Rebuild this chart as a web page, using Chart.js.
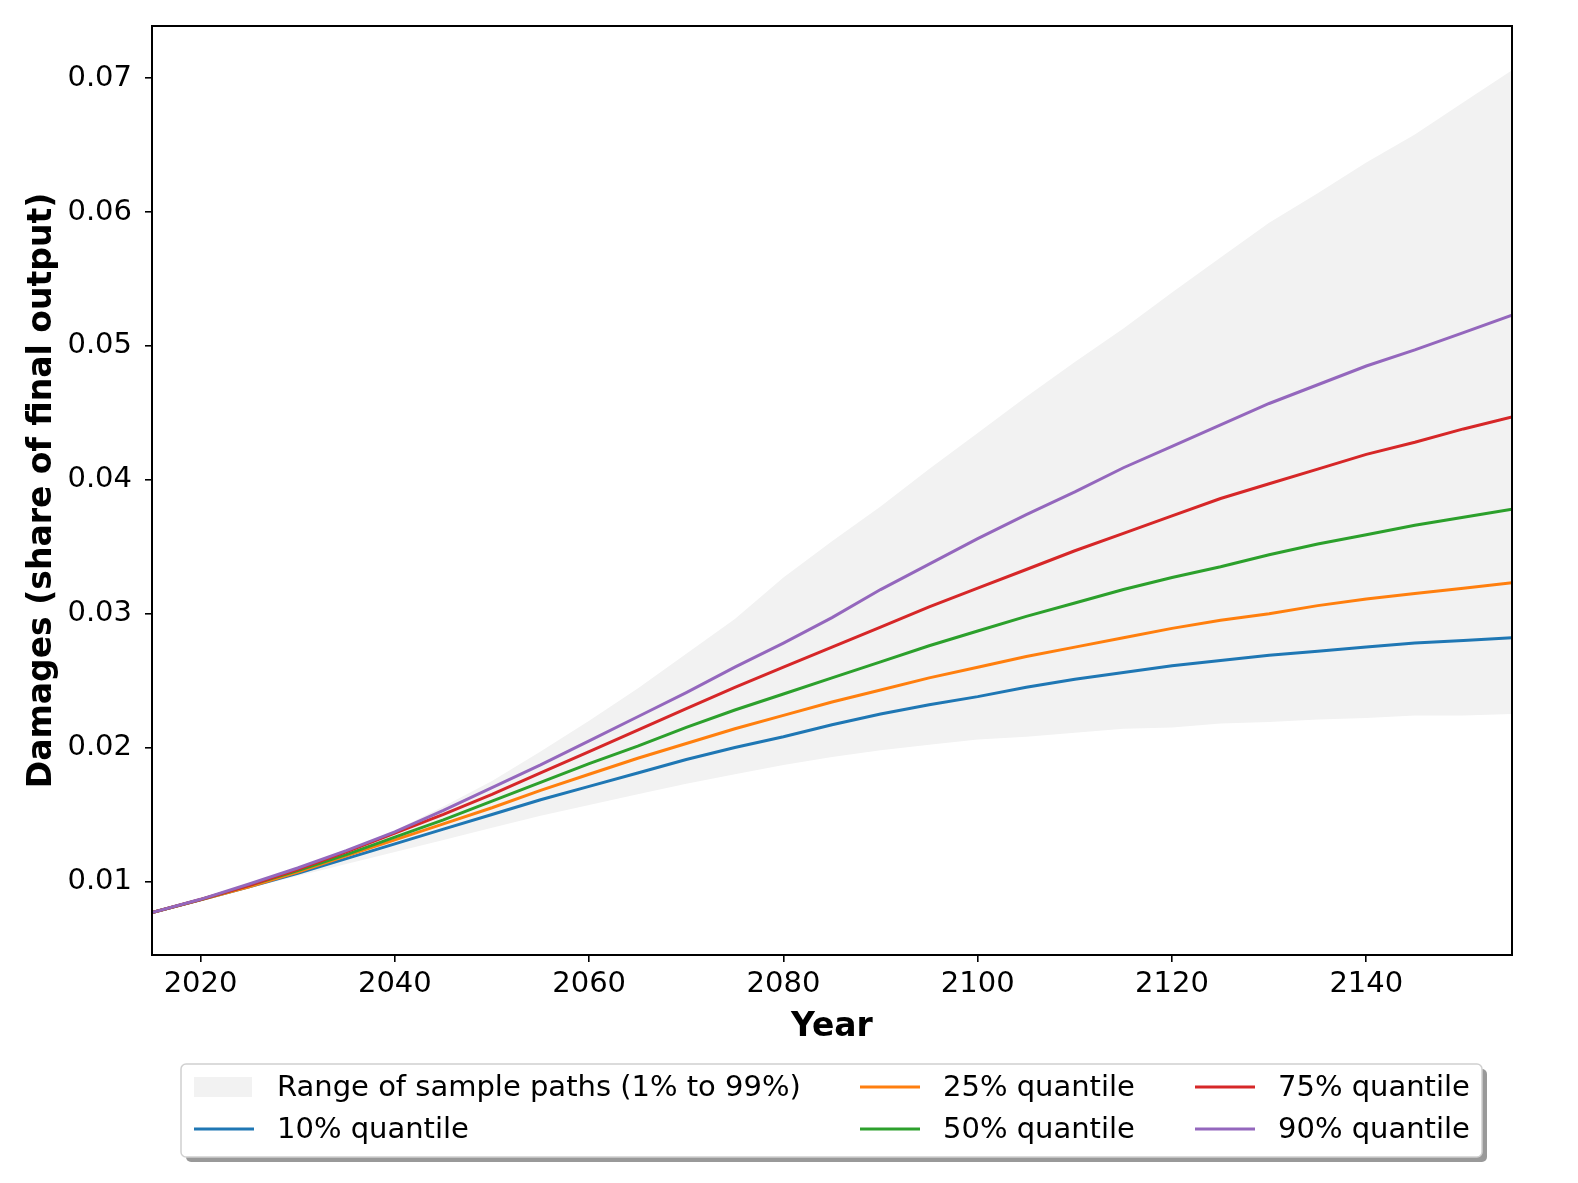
<!DOCTYPE html>
<html>
<head>
<meta charset="utf-8">
<script src="https://cdn.jsdelivr.net/npm/chart.js@4"></script>
<style>
  body { margin: 0; background: #fff; overflow: hidden; }
  #wrap { width: 1578px; height: 1183px; position: relative; }
</style>
</head>
<body>
<div id="wrap"><canvas id="myChart"></canvas></div>
<script>
// data, 5-year steps
const years = [2015, 2020, 2025, 2030, 2035, 2040, 2045, 2050, 2055, 2060, 2065, 2070, 2075, 2080, 2085,
  2090, 2095, 2100, 2105, 2110, 2115, 2120, 2125, 2130, 2135, 2140, 2145, 2150, 2155];

const rangeHigh = [0.00767, 0.00866, 0.0097, 0.0110, 0.0123, 0.0138, 0.0156, 0.0175, 0.0197, 0.0220, 0.0244,
  0.0270, 0.0296, 0.0327, 0.0354, 0.0380, 0.0408, 0.0435, 0.0462, 0.0488, 0.0513, 0.0540, 0.0566, 0.0592,
  0.0614, 0.0637, 0.0658, 0.0682, 0.0706];
const rangeLow = [0.00767, 0.00862, 0.0095, 0.0104, 0.0113, 0.0122, 0.0131, 0.0140, 0.0149, 0.0157, 0.0165,
  0.0173, 0.0180, 0.0187, 0.0193, 0.0198, 0.0202, 0.0206, 0.0208, 0.0211, 0.0214, 0.0215, 0.0218, 0.0219,
  0.0221, 0.0222, 0.0224, 0.0224, 0.0225];

const q10 = [0.00767, 0.00862, 0.0096, 0.0106, 0.0117, 0.0128, 0.0139, 0.0150, 0.0161, 0.0171, 0.0181, 0.0191,
  0.0200, 0.0208, 0.0217, 0.0225, 0.0232, 0.0238, 0.0245, 0.0251, 0.0256, 0.0261, 0.0265, 0.0269, 0.0272,
  0.0275, 0.0278, 0.0280, 0.0282];
const q25 = [0.00767, 0.00863, 0.0096, 0.0107, 0.0119, 0.0131, 0.0143, 0.0155, 0.0168, 0.0180, 0.0192, 0.0203,
  0.0214, 0.0224, 0.0234, 0.0243, 0.0252, 0.0260, 0.0268, 0.0275, 0.0282, 0.0289, 0.0295, 0.0300, 0.0306,
  0.0311, 0.0315, 0.0319, 0.0323];
const q50 = [0.00767, 0.00864, 0.0097, 0.0108, 0.0120, 0.0133, 0.0146, 0.0160, 0.0174, 0.0188, 0.0201, 0.0215,
  0.0228, 0.0240, 0.0252, 0.0264, 0.0276, 0.0287, 0.0298, 0.0308, 0.0318, 0.0327, 0.0335, 0.0344, 0.0352,
  0.0359, 0.0366, 0.0372, 0.0378];
const q75 = [0.00767, 0.00865, 0.0097, 0.0109, 0.0122, 0.0136, 0.0150, 0.0165, 0.0181, 0.0197, 0.0213, 0.0229,
  0.0245, 0.0260, 0.0275, 0.0290, 0.0305, 0.0319, 0.0333, 0.0347, 0.0360, 0.0373, 0.0386, 0.0397, 0.0408,
  0.0419, 0.0428, 0.0438, 0.0447];
const q90 = [0.00767, 0.00866, 0.0098, 0.0110, 0.0123, 0.0137, 0.0153, 0.0170, 0.0187, 0.0205, 0.0223, 0.0241,
  0.0260, 0.0278, 0.0297, 0.0318, 0.0337, 0.0356, 0.0374, 0.0391, 0.0409, 0.0425, 0.0441, 0.0457, 0.0471,
  0.0485, 0.0497, 0.0510, 0.0523];

const xTicks = [2020, 2040, 2060, 2080, 2100, 2120, 2140];
const yTicks = [0.01, 0.02, 0.03, 0.04, 0.05, 0.06, 0.07];

const FONT = "'DejaVu Sans', sans-serif";
const BAND = '#f2f2f2';

const pts = (vals) => vals.map((v, i) => ({x: years[i], y: v}));

const line = (label, vals, color, order) => ({
  label: label,
  data: pts(vals),
  borderColor: color,
  borderWidth: 3,
  pointRadius: 0,
  fill: false,
  order: order,
});

// legend goes column by column, like matplotlib with ncol=3
const legendItems = [
  {text: 'Range of sample paths (1% to 99%)', patch: true, col: 0, row: 0},
  {text: '10% quantile', color: '#1f77b4', col: 0, row: 1},
  {text: '25% quantile', color: '#ff7f0e', col: 1, row: 0},
  {text: '50% quantile', color: '#2ca02c', col: 1, row: 1},
  {text: '75% quantile', color: '#d62728', col: 2, row: 0},
  {text: '90% quantile', color: '#9467bd', col: 2, row: 1},
];

const framePlugin = {
  id: 'frame',
  afterDraw(chart) {
    const {ctx, chartArea: a} = chart;
    ctx.save();
    ctx.strokeStyle = '#000';
    ctx.lineWidth = 2;
    ctx.strokeRect(a.left, a.top, a.right - a.left, a.bottom - a.top);

    // legend box with shadow
    const bx = 181, by = 1064, bw = 1301, bh = 93;
    ctx.fillStyle = 'rgba(0,0,0,0.4)';
    ctx.beginPath();
    ctx.roundRect(bx + 5, by + 5, bw, bh, 5);
    ctx.fill();
    ctx.fillStyle = '#fff';
    ctx.strokeStyle = '#d0d0d0';
    ctx.lineWidth = 1.5;
    ctx.beginPath();
    ctx.roundRect(bx, by, bw, bh, 5);
    ctx.fill();
    ctx.stroke();

    const colX = [194, 860, 1195];
    const rowY = [1087, 1129];
    ctx.font = '29px ' + FONT;
    ctx.textBaseline = 'middle';
    legendItems.forEach((it) => {
      const x = colX[it.col], y = rowY[it.row];
      if (it.patch) {
        ctx.fillStyle = BAND;
        ctx.fillRect(x, y - 10, 58, 20);
      } else {
        ctx.strokeStyle = it.color;
        ctx.lineWidth = 3;
        ctx.beginPath();
        ctx.moveTo(x, y);
        ctx.lineTo(x + 60, y);
        ctx.stroke();
      }
      ctx.fillStyle = '#000';
      ctx.fillText(it.text, x + 83, y + 1);
    });
    ctx.restore();
  }
};

const config = {
  type: 'line',
  data: {
    datasets: [
      {
        label: 'Range of sample paths (1% to 99%)',
        data: pts(rangeHigh),
        borderWidth: 0,
        borderColor: BAND,
        backgroundColor: BAND,
        pointRadius: 0,
        fill: '+1',
        order: 10,
      },
      {
        label: 'low',
        data: pts(rangeLow),
        borderWidth: 0,
        borderColor: BAND,
        pointRadius: 0,
        fill: false,
        order: 11,
      },
      line('10% quantile', q10, '#1f77b4', 5),
      line('25% quantile', q25, '#ff7f0e', 4),
      line('50% quantile', q50, '#2ca02c', 3),
      line('75% quantile', q75, '#d62728', 2),
      line('90% quantile', q90, '#9467bd', 1),
    ]
  },
  options: {
    responsive: true,
    maintainAspectRatio: false,
    animation: false,
    devicePixelRatio: 1,
    layout: {padding: {left: 0, right: 66, top: 26, bottom: 136}},
    plugins: {
      legend: {display: false},
      tooltip: {enabled: false},
      filler: {drawTime: 'beforeDatasetsDraw'},
    },
    scales: {
      x: {
        type: 'linear',
        min: 2015,
        max: 2155,
        afterBuildTicks: (axis) => { axis.ticks = xTicks.map((v) => ({value: v})); },
        afterFit: (axis) => { axis.height = 92; },
        ticks: {
          color: '#000',
          font: {family: FONT, size: 29},
          padding: 5,
          maxRotation: 0,
          callback: (v) => String(v),
        },
        grid: {display: true, drawOnChartArea: false, drawTicks: true, tickLength: 7, color: '#000', lineWidth: 1.6},
        border: {display: true, color: '#000', width: 2},
        title: {display: true, text: 'Year', color: '#000', font: {family: FONT, size: 33, weight: 'bold'}, padding: {top: 0, bottom: 0}},
      },
      y: {
        type: 'linear',
        min: 0.0045,
        max: 0.0739,
        afterBuildTicks: (axis) => { axis.ticks = yTicks.map((v) => ({value: v})); },
        afterFit: (axis) => {
          axis.width = 152;
          axis.paddingTop = 0;
          axis.paddingBottom = 0;
        },
        ticks: {
          color: '#000',
          font: {family: FONT, size: 29},
          padding: 13,
          callback: (v) => v.toFixed(2),
        },
        grid: {display: true, drawOnChartArea: false, drawTicks: true, tickLength: 7, color: '#000', lineWidth: 1.6},
        border: {display: true, color: '#000', width: 2},
        title: {display: true, text: 'Damages (share of final output)', color: '#000', font: {family: FONT, size: 33, weight: 'bold'}, padding: {top: 23, bottom: 0}},
      }
    }
  },
  plugins: [framePlugin],
};

var myChart = new Chart(document.getElementById('myChart'), config);
</script>
</body>
</html>
